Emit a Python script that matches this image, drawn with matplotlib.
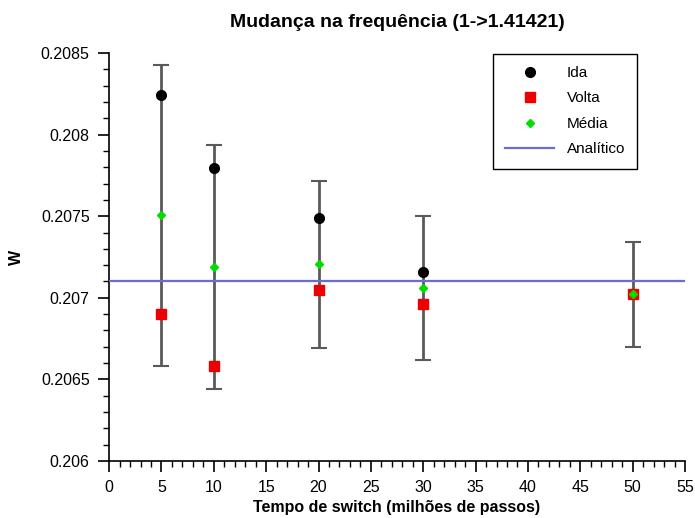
import numpy as np
import matplotlib
matplotlib.use('Agg')
import matplotlib.pyplot as plt
from matplotlib.ticker import MultipleLocator, FuncFormatter

plt.rcParams['font.family'] = ['Liberation Sans', 'DejaVu Sans']

# Dados
tempo = [5, 10, 20, 30, 50]
ida = [0.208243, 0.207795, 0.207487, 0.207156, 0.207021]
volta = [0.206901, 0.206582, 0.207046, 0.206960, 0.207021]
media = [0.207507, 0.207189, 0.207205, 0.207058, 0.207021]
erro = [0.000922, 0.000750, 0.000511, 0.000442, 0.000320]
analitico = 0.207105

fig = plt.figure(figsize=(6.95, 5.18), dpi=100)
ax = fig.add_axes([0.157, 0.110, 0.8286, 0.7877])

# barras de erro centradas na media
ax.errorbar(tempo, media, yerr=erro, fmt='none', ecolor='#5a5a5a',
            elinewidth=2, capsize=6, capthick=1.5, zorder=2)
ax.axhline(analitico, color='#6b6bd0', linewidth=1.6, label='Analítico', zorder=3)
ax.plot(tempo, ida, 'o', color='black', markersize=7, label='Ida', zorder=4)
ax.plot(tempo, volta, 's', color='#ee0000', markersize=7.5, label='Volta', zorder=5)
ax.plot(tempo, media, 'D', color='#00dd00', markersize=4.5, label='Média', zorder=6)

ax.set_xlim(0, 55)
ax.set_ylim(0.206, 0.2085)
ax.xaxis.set_major_locator(MultipleLocator(5))
ax.xaxis.set_minor_locator(MultipleLocator(1))
ax.yaxis.set_major_locator(MultipleLocator(0.0005))
ax.yaxis.set_minor_locator(MultipleLocator(0.0001))
ax.yaxis.set_major_formatter(FuncFormatter(lambda v, p: '%g' % round(v, 6)))
ax.tick_params(which='major', length=8, width=1.2, labelsize=11.5, direction='out', pad=6)
ax.tick_params(which='minor', length=4.5, width=1.0, direction='out')

ax.spines['top'].set_visible(False)
ax.spines['right'].set_visible(False)
ax.spines['left'].set_linewidth(1.2)
ax.spines['bottom'].set_linewidth(1.2)

ax.set_title('Mudança na frequência (1->1.41421)', fontsize=14, fontweight='bold', pad=19)
ax.set_xlabel('Tempo de switch (milhões de passos)', fontsize=11.5, fontweight='bold', labelpad=3)
ax.set_ylabel('W', fontsize=11.5, fontweight='bold', labelpad=12)

# legenda na ordem do original
handles, labels = ax.get_legend_handles_labels()
ordem = ['Ida', 'Volta', 'Média', 'Analítico']
hs = [handles[labels.index(l)] for l in ordem]
leg = ax.legend(hs, ordem, loc='upper right', bbox_to_anchor=(0.917, 0.998),
                borderaxespad=0, fontsize=11, fancybox=False, edgecolor='black',
                framealpha=1, handlelength=3.2, handletextpad=0.8, borderpad=0.8,
                labelspacing=0.75)
leg.get_frame().set_linewidth(1.0)

plt.savefig('out.png', dpi=100)
